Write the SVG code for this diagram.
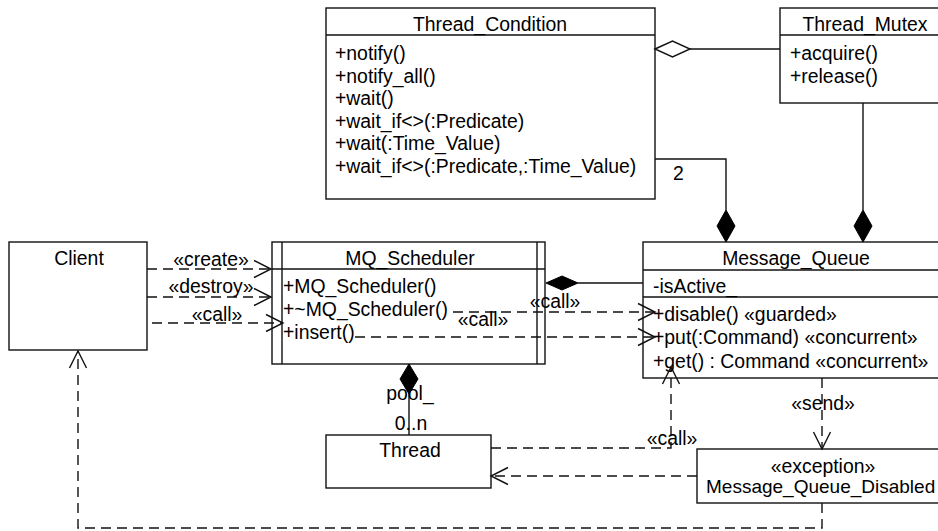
<svg xmlns="http://www.w3.org/2000/svg" width="938" height="531" viewBox="0 0 938 531">
<defs>
<style>
text{font-family:"Liberation Sans",Arial,sans-serif;font-size:19.4px;fill:#000}
.c{text-anchor:middle}
.box{fill:#fff;stroke:#111;stroke-width:1.4}
.ln{fill:none;stroke:#111;stroke-width:1.4}
.dash{fill:none;stroke:#111;stroke-width:1.4;stroke-dasharray:10 6}
.fd{fill:#000;stroke:#000;stroke-width:1}
.hd{fill:#fff;stroke:#111;stroke-width:1.4}
</style>
<marker id="open" viewBox="-20 -11 22 22" refX="0" refY="0" markerWidth="22" markerHeight="22" markerUnits="userSpaceOnUse" orient="auto">
<path d="M-17,-8.5 L0,0 L-17,8.5" fill="none" stroke="#111" stroke-width="1.4"/>
</marker>
</defs>
<rect width="938" height="531" fill="#fff"/>

<g id="Thread_Condition">
<rect class="box" x="326" y="8" width="329" height="191"/>
<line class="ln" x1="326" y1="35" x2="655" y2="35"/>
<text class="c" x="490" y="31">Thread_Condition</text>
<text x="335" y="60">+notify()</text>
<text x="335" y="82.5">+notify_all()</text>
<text x="335" y="105">+wait()</text>
<text x="335" y="127.5">+wait_if&lt;&gt;(:Predicate)</text>
<text x="335" y="150">+wait(:Time_Value)</text>
<text x="335" y="172.5">+wait_if&lt;&gt;(:Predicate,:Time_Value)</text>
</g>

<g id="Thread_Mutex">
<rect class="box" x="780" y="8" width="170" height="95"/>
<line class="ln" x1="780" y1="35" x2="950" y2="35"/>
<text class="c" x="865" y="31">Thread_Mutex</text>
<text x="790" y="60">+acquire()</text>
<text x="790" y="82.5">+release()</text>
</g>

<g id="Client">
<rect class="box" x="9" y="242" width="138" height="108"/>
<text class="c" x="79" y="265">Client</text>
</g>

<g id="MQ_Scheduler">
<rect class="box" x="272" y="242" width="273" height="122"/>
<line class="ln" x1="282" y1="242" x2="282" y2="364"/>
<line class="ln" x1="537" y1="242" x2="537" y2="364"/>
<line class="ln" x1="272" y1="269" x2="545" y2="269"/>
<text class="c" x="410" y="265">MQ_Scheduler</text>
<text x="283" y="293">+MQ_Scheduler()</text>
<text x="283" y="316">+~MQ_Scheduler()</text>
<text x="283" y="339">+insert()</text>
</g>

<g id="Message_Queue">
<rect class="box" x="643" y="242" width="307" height="136"/>
<line class="ln" x1="643" y1="270" x2="950" y2="270"/>
<line class="ln" x1="643" y1="297" x2="950" y2="297"/>
<text class="c" x="796" y="265">Message_Queue</text>
<text x="653" y="293">-isActive_</text>
<text x="653" y="321">+disable() «guarded»</text>
<text x="653" y="344">+put(:Command) «concurrent»</text>
<text x="653" y="368">+get() : Command «concurrent»</text>
</g>

<g id="Thread">
<rect class="box" x="326" y="435" width="165" height="53"/>
<text class="c" x="410" y="457">Thread</text>
</g>

<g id="Message_Queue_Disabled">
<rect class="box" x="697" y="449" width="253" height="54"/>
<text class="c" x="823" y="473">«exception»</text>
<text x="706" y="493" style="font-size:19px">Message_Queue_Disabled</text>
</g>

<g id="connectors">
<line class="ln" x1="690" y1="49" x2="780" y2="49"/>
<polygon class="hd" points="655,49 672.5,41 690,49 672.5,57"/>
<polyline class="ln" points="655,159 726,159 726,210"/>
<polygon class="fd" points="726,210 735,226 726,242 717,226"/>
<text x="673" y="180">2</text>
<line class="ln" x1="863" y1="103" x2="863" y2="210"/>
<polygon class="fd" points="863,210 872,226 863,242 854,226"/>
<line class="ln" x1="578" y1="283" x2="643" y2="283"/>
<polygon class="fd" points="546,283 562,276 578,283 562,290"/>
<line class="ln" x1="409" y1="394" x2="409" y2="435"/>
<polygon class="fd" points="409,364 418,379 409,394 400,379"/>
<text class="c" x="410" y="400">pool_</text>
<text class="c" x="411" y="430">0..n</text>
<line class="dash" x1="147" y1="269" x2="271" y2="269" marker-end="url(#open)"/>
<text class="c" x="211" y="266">«create»</text>
<line class="dash" x1="147" y1="297" x2="271" y2="297" marker-end="url(#open)"/>
<text class="c" x="211" y="293">«destroy»</text>
<line class="dash" x1="152" y1="323" x2="283" y2="323" marker-end="url(#open)"/>
<text class="c" x="217" y="321">«call»</text>
<line class="dash" x1="453" y1="312" x2="655" y2="312" marker-end="url(#open)"/>
<text class="c" x="555" y="308">«call»</text>
<line class="dash" x1="355" y1="337" x2="655" y2="337" marker-end="url(#open)"/>
<text class="c" x="483" y="326">«call»</text>
<polyline class="dash" points="491,448 671,448 671,367" marker-end="url(#open)"/>
<text class="c" x="672" y="445">«call»</text>
<line class="dash" x1="822" y1="378" x2="822" y2="449" marker-end="url(#open)"/>
<text class="c" x="823" y="410">«send»</text>
<line class="dash" x1="697" y1="476" x2="491" y2="476" marker-end="url(#open)"/>
<polyline class="dash" points="822,503 822,528 78,528 78,351" marker-end="url(#open)"/>
</g>
</svg>
